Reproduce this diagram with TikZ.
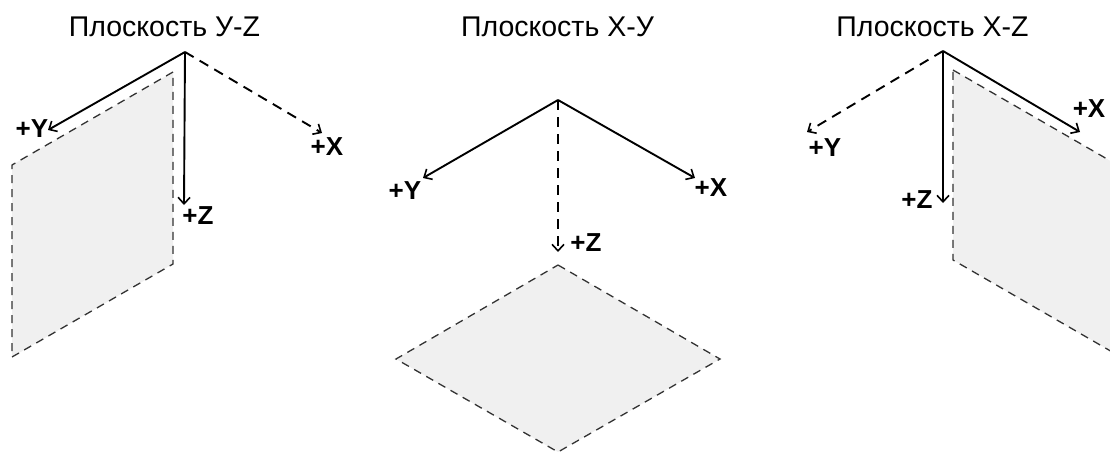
\documentclass[tikz,border=0pt]{standalone}
\usepackage{fontspec}
\setmainfont{Liberation Sans}
\usetikzlibrary{arrows.meta}
\definecolor{planefill}{HTML}{F0F0F0}
\begin{document}
\begin{tikzpicture}[x=1pt,y=-1pt,
  axis/.style={line width=1.9pt, -{Straight Barb[length=6.5pt,width=12pt,line width=1.6pt]}},
  hidden axis/.style={axis, dash pattern=on 10pt off 7pt},
  plane/.style={fill=planefill, draw=black!80, line width=1.3pt, dash pattern=on 8pt off 6pt},
  axlabel/.style={font=\fontsize{26}{26}\selectfont\bfseries, inner sep=0pt},
  title/.style={font=\fontsize{28.5}{28.5}\selectfont, inner sep=0pt, anchor=base}]
\useasboundingbox (0,0) rectangle (1110,453);
\clip (0,0) rectangle (1110,453);

% ---------- Y-Z plane ----------
\node[title] (t1) at (164.5,36) {Плоскость У-Z};
\draw[plane] (173,72) -- (12,165) -- (12,357) -- (173,264) -- cycle;
\coordinate (o1) at (185,52);
\coordinate (y1) at (48,130);
\coordinate (x1) at (322,133);
\coordinate (z1) at (184,205);
\draw[axis] (o1) -- (y1);
\draw[axis] (o1) -- (z1);
\draw[hidden axis] (o1) -- (x1);
\node[axlabel] (ly1) at (32,129) {+Y};
\node[axlabel] (lx1) at (327,147) {+X};
\node[axlabel] (lz1) at (198,216) {+Z};

% ---------- X-Y plane ----------
\node[title] (t2) at (557.5,36) {Плоскость X-У};
\draw[plane] (558,265) -- (720,359) -- (558,452) -- (396,359) -- cycle;
\coordinate (o2) at (558,100);
\coordinate (y2) at (423,178);
\coordinate (x2) at (695,178);
\coordinate (z2) at (558,252);
\draw[axis] (o2) -- (y2);
\draw[axis] (o2) -- (x2);
\draw[hidden axis] (o2) -- (z2);
\node[axlabel] (ly2) at (405,191) {+Y};
\node[axlabel] (lx2) at (711,188) {+X};
\node[axlabel] (lz2) at (586,243) {+Z};

% ---------- X-Z plane ----------
\node[title] (t3) at (932.5,36) {Плоскость X-Z};
\draw[plane] (953,70) -- (1114,163) -- (1114,353) -- (953,260) -- cycle;
\coordinate (o3) at (943,51);
\coordinate (y3) at (807,132);
\coordinate (x3) at (1080,132);
\coordinate (z3) at (943,203);
\draw[axis] (o3) -- (x3);
\draw[axis] (o3) -- (z3);
\draw[hidden axis] (o3) -- (y3);
\node[axlabel] (ly3) at (825,148) {+Y};
\node[axlabel] (lx3) at (1089,109) {+X};
\node[axlabel] (lz3) at (917,200) {+Z};
\end{tikzpicture}
\end{document}
